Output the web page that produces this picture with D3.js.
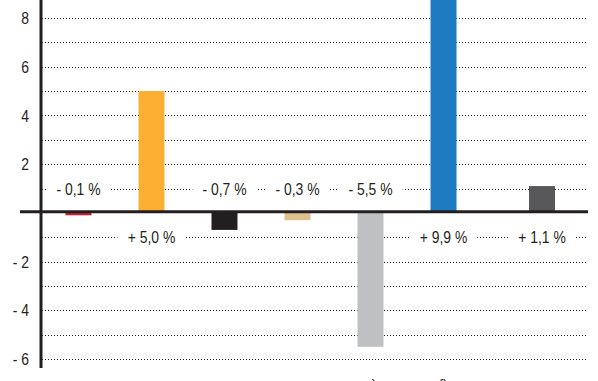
<!DOCTYPE html>
<html><head><meta charset="utf-8">
<script src="https://cdn.jsdelivr.net/npm/d3@7"></script>
<style>
html,body{margin:0;padding:0;background:#fff;overflow:hidden}
svg{display:block}
text{font-family:"Liberation Sans",Arial,sans-serif;fill:#231f20}
</style></head>
<body>
<svg id="c" width="598" height="381"></svg>
<script>
const categories = ["A","B","C","D","E","F","G"];
const values = [-0.1, 5.0, -0.7, -0.3, -5.5, 9.9, 1.1];
const valueLabels = ["- 0,1 %","+ 5,0 %","- 0,7 %","- 0,3 %","- 5,5 %","+ 9,9 %","+ 1,1 %"];
const footnotes = ["","","","","c)","f)",""];
const colors = ["#c8202f","#fbb034","#231f20","#e0c08f","#bfc0c2","#1f7bc1","#58585a"];
const tickValues = [-6,-4,-2,2,4,6,8];
const tickLabels = ["- 6","- 4","- 2","2","4","6","8"];
const gridValues = [-6,-5,-4,-3,-2,-1,1,2,3,4,5,6,7,8];

const NARROW = 0.82;
const FS = 17;
const svg = d3.select("#c");
const y = d3.scaleLinear().domain([-6, 8]).range([359, 18]);
const xb = d3.scaleBand().domain(categories).range([42, 553]).paddingInner(0.644).paddingOuter(0.322);
const lastGap = 25.5;
const cx = (d, i) => xb(d) + xb.bandwidth() / 2 + (i === categories.length - 1 ? lastGap : 0);

// gridlines
svg.append("g").selectAll("line").data(gridValues).join("line")
  .attr("x1", 42).attr("x2", 588)
  .attr("y1", d => Math.round(y(d)) + 0.5).attr("y2", d => Math.round(y(d)) + 0.5)
  .attr("stroke", "#231f20").attr("stroke-width", 1.2).attr("stroke-dasharray", "1,2");

// bars
svg.append("g").selectAll("rect").data(categories).join("rect")
  .attr("x", (d, i) => cx(d, i) - xb.bandwidth() / 2)
  .attr("width", xb.bandwidth())
  .attr("y", (d, i) => Math.min(y(0), y(values[i])))
  .attr("height", (d, i) => Math.abs(y(values[i]) - y(0)))
  .attr("fill", (d, i) => colors[i]);

// value labels with white background
const lg = svg.append("g").selectAll("g").data(categories).join("g")
  .attr("transform", (d, i) => `translate(${cx(d, i)},${y(values[i] < 0 ? 1 : -1)})`);
lg.append("rect").attr("fill", "#fff");
lg.append("text").attr("text-anchor", "middle").attr("dy", "0.36em")
  .attr("transform", `scale(${NARROW},1)`)
  .attr("font-size", FS).text((d, i) => valueLabels[i]);
lg.each(function () {
  const g = d3.select(this);
  const bb = g.select("text").node().getBBox();
  const w = bb.width * NARROW;
  g.select("rect").attr("x", -w / 2 - 10).attr("width", w + 20).attr("y", -4).attr("height", 8);
});

// axis tick labels
svg.append("g").selectAll("text").data(tickValues).join("text")
  .attr("transform", d => `translate(29,${y(d)}) scale(${NARROW},1)`)
  .attr("dy", "0.36em")
  .attr("text-anchor", "end").attr("font-size", FS)
  .text((d, i) => tickLabels[i]);

// y axis line
svg.append("line").attr("x1", 41).attr("x2", 41).attr("y1", 0).attr("y2", 368)
  .attr("stroke", "#231f20").attr("stroke-width", 3);
// zero line
svg.append("line").attr("x1", 20).attr("x2", 588).attr("y1", y(0) - 1).attr("y2", y(0) - 1)
  .attr("stroke", "#231f20").attr("stroke-width", 3);

// footnote markers (cropped at the bottom edge, as in the reference)
svg.append("g").selectAll("text").data(categories).join("text")
  .attr("x", (d, i) => cx(d, i)).attr("y", 390)
  .attr("text-anchor", "middle").attr("font-size", 14)
  .text((d, i) => footnotes[i]);
</script>
</body></html>
